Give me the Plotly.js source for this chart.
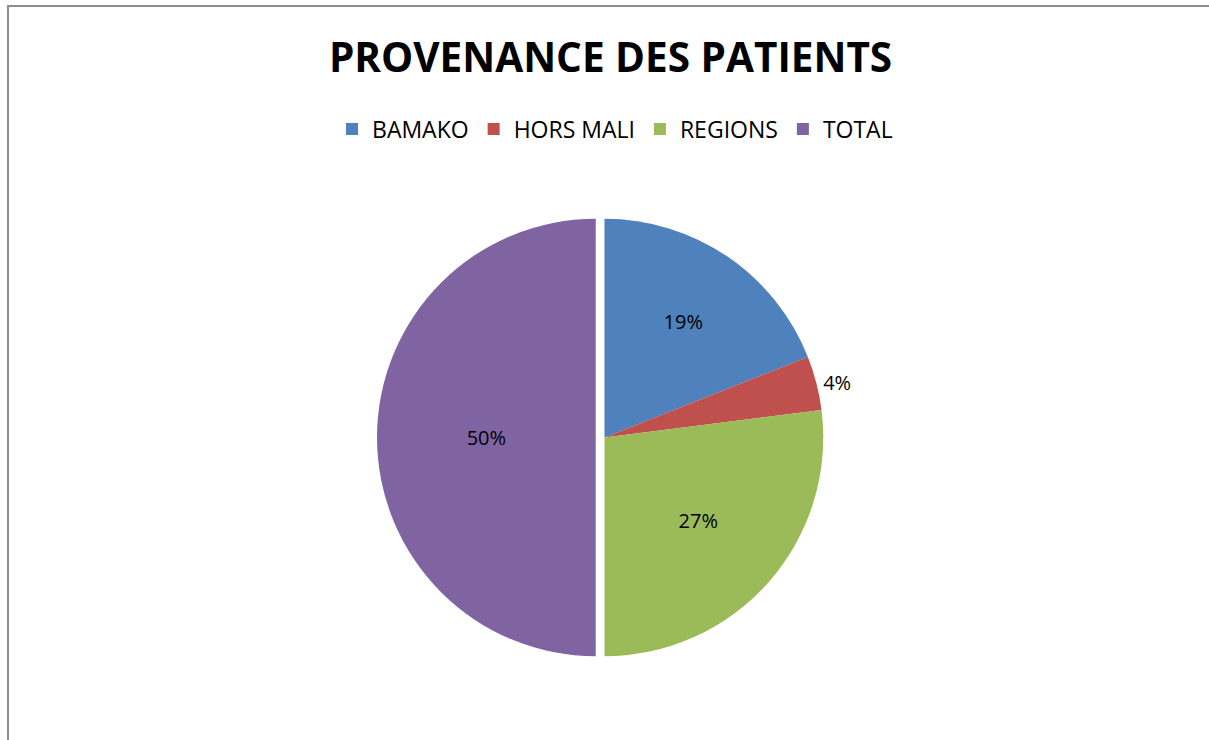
<!DOCTYPE html>
<html>
<head>
<meta charset="utf-8">
<script src="https://cdn.plot.ly/plotly-3.0.1.min.js"></script>
<style>
  html, body { margin: 0; padding: 0; background: #fff; overflow: hidden; }
  #frame { position: absolute; left: 7px; top: 5px; width: 1210px; height: 740px;
           border-left: 2px solid #8c8c8c; border-top: 2px solid #8c8c8c; box-sizing: border-box; }
  #chart { position: absolute; left: 0; top: 0; width: 1209px; height: 740px; }
</style>
</head>
<body>
<div id="frame"></div>
<div id="chart"></div>
<script>
const categories = ["BAMAKO", "HORS MALI", "REGIONS", "TOTAL"];
const values = [19, 4, 27, 50];
const colors = ["#4F81BD", "#C0504D", "#9BBB59", "#8064A2"];
const chartTitle = "PROVENANCE DES PATIENTS";

const trace = {
  type: "pie",
  labels: categories,
  values: values,
  sort: false,
  direction: "clockwise",
  rotation: 0,
  pull: [0, 0, 0, 0.04],
  marker: { colors: colors, line: { width: 0 } },
  textinfo: "percent",
  texttemplate: "%{percent:.0%}",
  textposition: ["inside", "outside", "inside", "inside"],
  insidetextorientation: "horizontal",
  textfont: { family: "Open Sans, Liberation Sans, sans-serif", size: 20, color: "#000" },
  outsidetextfont: { family: "Open Sans, Liberation Sans, sans-serif", size: 20, color: "#000" },
  hoverinfo: "label+percent",
  domain: { x: [0.1, 0.9], y: [0.0, 1.0] }
};

const layout = {
  width: 1209,
  height: 740,
  paper_bgcolor: "rgba(0,0,0,0)",
  plot_bgcolor: "rgba(0,0,0,0)",
  margin: { l: 20, r: 20, t: 210, b: 75 },
  title: {
    text: "<b>" + chartTitle + "</b>",
    font: { family: "Open Sans, Liberation Sans, sans-serif", size: 40.5, color: "#000" },
    x: 0.505, xanchor: "center",
    y: 0.922, yanchor: "middle"
  },
  showlegend: true,
  legend: {
    orientation: "h",
    x: 0.509, xanchor: "center",
    y: (740 - 75 - 129) / (740 - 210 - 75), yanchor: "middle",
    font: { family: "Open Sans, Liberation Sans, sans-serif", size: 23, color: "#000" },
    itemwidth: 30,
    traceorder: "normal"
  }
};

Plotly.newPlot("chart", [trace], layout, { displayModeBar: false, staticPlot: true });
</script>
</body>
</html>
